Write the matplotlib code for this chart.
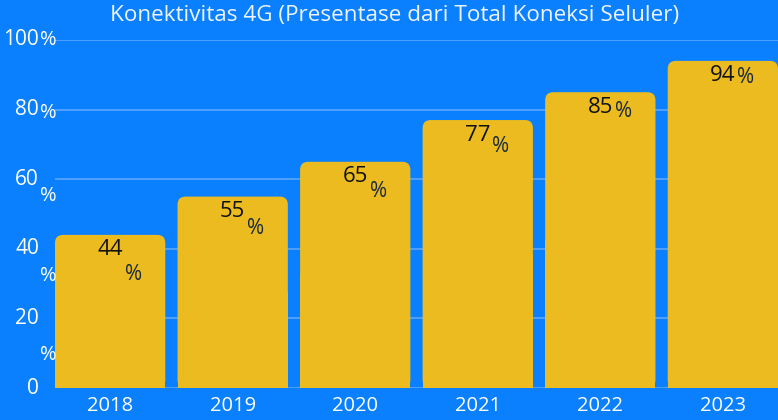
import matplotlib
matplotlib.use("Agg")
import matplotlib.pyplot as plt
from matplotlib.patches import FancyBboxPatch, Rectangle

plt.rcParams["font.family"] = ["Open Sans", "DejaVu Sans"]

years = ["2018", "2019", "2020", "2021", "2022", "2023"]
share_4g = [44, 55, 65, 77, 85, 94]
y_ticks = [0, 20, 40, 60, 80, 100]

# the odd "%" placement of the original, in pixels
pct_drop_bars = [25, 17, 15, 11, 4, 2]
pct_drop_ticks = [47, 37, 27, 17, 3, 0]

bg = "#0a80ff"
bar_col = "#ebbb1f"
grid_col = "#5aa6ff"

fig = plt.figure(figsize=(7.78, 4.20), dpi=100, facecolor=bg)
ax = fig.add_axes([55 / 778, 32 / 420, 723 / 778, 348 / 420])
ax.set_facecolor(bg)

x = list(range(len(years)))
w = 0.9
ax.set_xlim(-0.45, len(years) - 0.55)
ax.set_ylim(0, 100)

ax.set_yticks(y_ticks)
ax.yaxis.grid(True, color=grid_col, linewidth=1.2)
ax.set_axisbelow(True)
ax.tick_params(left=False, bottom=False, labelleft=False)
for s in ax.spines.values():
    s.set_visible(False)

ax.set_xticks(x)
ax.set_xticklabels(years, color="white", fontsize=14.5)
ax.tick_params(axis="x", pad=2)

# rounded tops: radius in pixels -> data units
ax_w_px = 723
ax_h_px = 348
xu = (len(years) - 0.1) / ax_w_px
yu = 100 / ax_h_px
r_px = 8
for xi, v in zip(x, share_4g):
    left = xi - w / 2
    box = FancyBboxPatch((left, 0), w, v,
                         boxstyle="round,pad=0,rounding_size=%f" % (r_px * xu),
                         mutation_aspect=yu / xu,
                         facecolor=bar_col, edgecolor="none", zorder=2)
    ax.add_patch(box)
    ax.add_patch(Rectangle((left, 0), w, v / 2, facecolor=bar_col,
                           edgecolor="none", zorder=2))

    ax.annotate(str(v), xy=(xi, v), xytext=(0, -15), textcoords="offset pixels",
                ha="center", va="center", fontsize=16, color="#111111", zorder=3)
    ax.annotate("%", xy=(xi, v), xytext=(23, -15 - pct_drop_bars[xi]),
                textcoords="offset pixels", ha="center", va="center",
                fontsize=15, color="#1a2a40", zorder=3)

ytr = ax.get_yaxis_transform()
for t, d in zip(y_ticks, pct_drop_ticks):
    ax.annotate(str(t), xy=(0, t), xycoords=ytr, xytext=(-16, 0),
                textcoords="offset pixels", ha="right", va="center",
                fontsize=15, color="white", annotation_clip=False)
    if t > 0:
        ax.annotate("%", xy=(0, t), xycoords=ytr, xytext=(-15, -d),
                    textcoords="offset pixels", ha="left", va="center",
                    fontsize=14.5, color="white", annotation_clip=False)

fig.text(395 / 778, 1 - 15 / 420, "Konektivitas 4G (Presentase dari Total Koneksi Seluler)",
         ha="center", va="center", fontsize=16.2, color="#eef4ff")

fig.savefig("out.png", dpi=100, facecolor=bg)
